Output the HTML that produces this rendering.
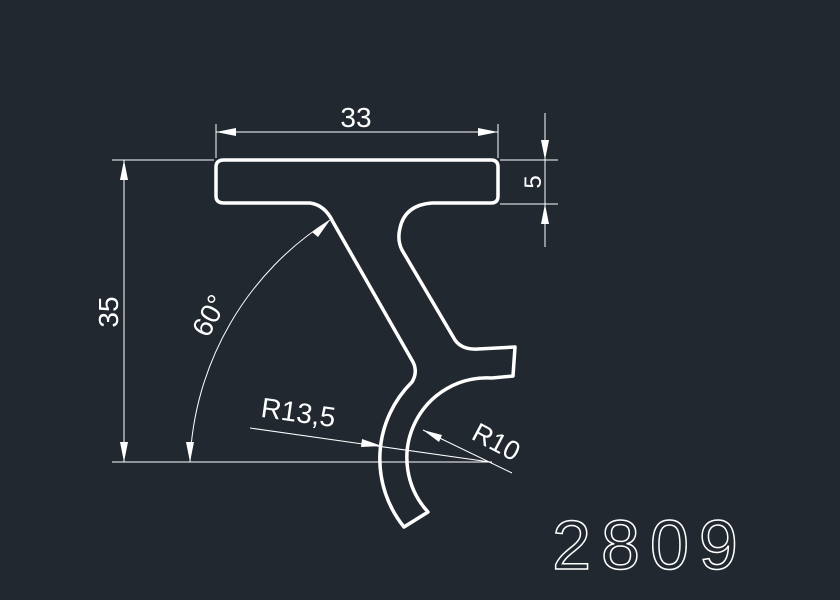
<!DOCTYPE html>
<html><head><style>html,body{margin:0;padding:0;background:#212830;}svg{display:block}</style></head>
<body>
<svg width="840" height="600" viewBox="0 0 840 600" xmlns="http://www.w3.org/2000/svg">
<rect width="840" height="600" fill="#212830"/>
<g stroke="#fff" stroke-width="1" fill="none">
<line x1="216" y1="124" x2="216" y2="158"/>
<line x1="498" y1="124" x2="498" y2="158"/>
<line x1="216" y1="132" x2="498" y2="132"/>
<line x1="112" y1="160" x2="214" y2="160"/>
<line x1="112" y1="462" x2="492" y2="462"/>
<line x1="124" y1="160" x2="124" y2="462"/>
<line x1="500" y1="160" x2="558" y2="160"/>
<line x1="500" y1="204" x2="558" y2="204"/>
<line x1="545" y1="113" x2="545" y2="247"/>
<path d="M190 462 A300 300 0 0 1 330 220"/>
<line x1="250" y1="428" x2="490" y2="462"/>
<line x1="512" y1="473" x2="423" y2="430"/>
</g>
<g fill="#fff">
<polygon points="216,132 236,128 236,136"/>
<polygon points="498,132 478,128 478,136"/>
<polygon points="124,160 120,180 128,180"/>
<polygon points="124,462 120,442 128,442"/>
<polygon points="545,160 541,140 549,140"/>
<polygon points="545,204 541,224 549,224"/>
<polygon points="190,462 186,442 194,442"/>
<polygon points="330,220 312,232 318,237"/>
<polygon points="382,446 362,439 361,447"/>
<polygon points="423,430 439,442 442,435"/>
</g>
<path d="M224 160 H491 Q498 160 498 167 V196 Q498 203 491 203 H432 Q405 205 400 228 Q397 240 402 250 L455 340 Q462 350 478 349 L515 347 L513 376 L492 378 A80 80 0 0 0 428 512 L404 527 A108 108 0 0 1 412 382 Q418 372 413 362 L333 222 Q325 205 310 203 H224 Q216 203 216 196 V167 Q216 160 224 160 Z" fill="none" stroke="#fff" stroke-width="3.5" stroke-linejoin="round"/>
<g fill="#fff" font-family="'Liberation Sans',sans-serif">
<text x="356" y="127" font-size="28" text-anchor="middle">33</text>
<text transform="translate(118,312) rotate(-90)" font-size="28" text-anchor="middle">35</text>
<text transform="translate(541,182) rotate(-90)" font-size="24" text-anchor="middle">5</text>
<text transform="translate(218,320) rotate(-62)" font-size="28" text-anchor="middle">60°</text>
<text transform="translate(297,422) rotate(8)" font-size="28" text-anchor="middle">R13,5</text>
<text transform="translate(492,450) rotate(28)" font-size="27" text-anchor="middle">R10</text>
</g>
<text x="650" y="569" font-size="70" font-family="'Liberation Sans',sans-serif" text-anchor="middle" fill="none" stroke="#fff" stroke-width="1.5" letter-spacing="10">2809</text>
</svg>
</body></html>
